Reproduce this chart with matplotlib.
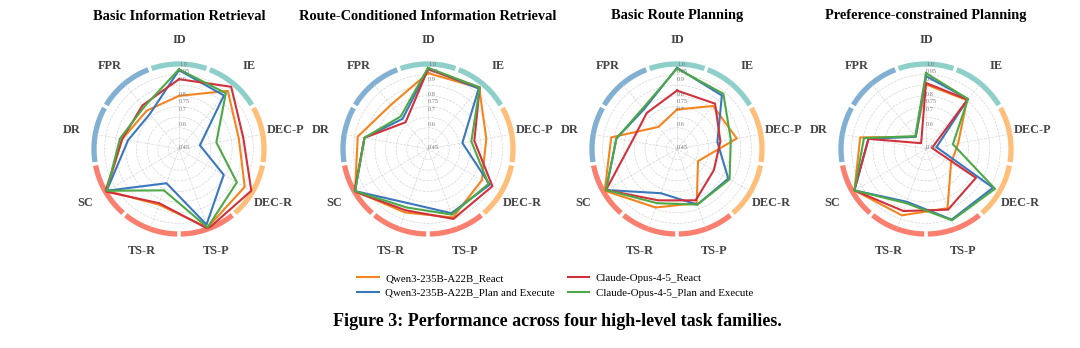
import matplotlib
matplotlib.use("Agg")
import matplotlib.pyplot as plt
import numpy as np

plt.rcParams['font.family'] = ['Liberation Serif', 'DejaVu Serif']

categories = ['ID', 'IE', 'DEC-P', 'DEC-R', 'TS-P', 'TS-R', 'SC', 'DR', 'FPR']
ring_colors = ['#8ECFC9', '#8ECFC9', '#FFBE7A', '#FFBE7A',
               '#FA7F6F', '#FA7F6F', '#FA7F6F', '#82B0D2', '#82B0D2']
tick_values = [0.45, 0.6, 0.7, 0.75, 0.8, 0.9, 0.95, 1.0]
tick_labels = ['0.45', '0.6', '0.7', '0.75', '0.8', '0.9', '0.95', '1.0']

titles = ['Basic Information Retrieval', 'Route-Conditioned Information Retrieval',
          'Basic Route Planning', 'Preference-constrained Planning']
series_names = ['Qwen3-235B-A22B_React', 'Qwen3-235B-A22B_Plan and Execute',
                'Claude-Opus-4-5_React', 'Claude-Opus-4-5_Plan and Execute']
series_colors = ['#F5841F', '#3A77BE', '#D1313B', '#4DA846']

# order: ID, IE, DEC-P, DEC-R, TS-P, TS-R, SC, DR, FPR
bir_qwen_react = [0.79, 0.94, 0.84, 0.94, 0.99, 0.83, 0.99, 0.82, 0.77]
bir_qwen_pe = [0.96, 0.90, 0.58, 0.78, 0.97, 0.68, 0.99, 0.78, 0.74]
bir_claude_react = [0.90, 0.975, 0.87, 0.99, 1.0, 0.82, 1.0, 0.82, 0.815]
bir_claude_pe = [0.965, 0.92, 0.69, 0.88, 0.99, 0.73, 0.99, 0.835, 0.80]

rcir_qwen_react = [0.94, 0.965, 0.83, 0.85, 0.92, 0.885, 0.995, 0.91, 0.82]
rcir_qwen_pe = [0.97, 0.96, 0.67, 0.91, 0.89, 0.82, 0.995, 0.865, 0.70]
rcir_claude_react = [0.965, 0.97, 0.75, 0.93, 0.93, 0.87, 1.0, 0.865, 0.67]
rcir_claude_pe = [0.975, 0.97, 0.73, 0.90, 0.90, 0.85, 0.995, 0.865, 0.72]

brp_qwen_react = [0.70, 0.81, 0.84, 0.60, 0.82, 0.85, 0.99, 0.88, 0.63]
brp_qwen_pe = [0.975, 0.90, 0.71, 0.83, 0.83, 0.75, 0.98, 0.845, 0.78]
brp_claude_react = [0.825, 0.83, 0.73, 0.72, 0.80, 0.80, 0.98, 0.74, 0.75]
brp_claude_pe = [0.97, 0.915, 0.80, 0.84, 0.83, 0.82, 0.98, 0.845, 0.79]

pcp_qwen_react = [0.865, 0.86, 0.655, 0.63, 0.855, 0.905, 0.985, 0.88, 0.545]
pcp_qwen_pe = [0.92, 0.87, 0.51, 0.95, 0.935, 0.81, 0.985, 0.825, 0.545]
pcp_claude_react = [0.875, 0.865, 0.48, 0.82, 0.865, 0.875, 0.985, 0.825, 0.49]
pcp_claude_pe = [0.94, 0.87, 0.62, 0.965, 0.94, 0.82, 0.985, 0.855, 0.55]

tasks = [
    [bir_qwen_react, bir_qwen_pe, bir_claude_react, bir_claude_pe],
    [rcir_qwen_react, rcir_qwen_pe, rcir_claude_react, rcir_claude_pe],
    [brp_qwen_react, brp_qwen_pe, brp_claude_react, brp_claude_pe],
    [pcp_qwen_react, pcp_qwen_pe, pcp_claude_react, pcp_claude_pe],
]

W, H = 1080, 348
fig = plt.figure(figsize=(W / 100, H / 100), dpi=100)

n = len(categories)
angles = np.arange(n) * 2 * np.pi / n
step = 2 * np.pi / n
gap = np.deg2rad(1.2)
rmin = 0.44
rad_px = 85
centers_x = [179, 428, 677, 926]
center_y = 149

handles = []
for k, (title, data) in enumerate(zip(titles, tasks)):
    cx = centers_x[k]
    ax = fig.add_axes([(cx - rad_px) / W, (H - center_y - rad_px) / H,
                       2 * rad_px / W, 2 * rad_px / H], projection='polar')
    ax.set_theta_offset(np.pi / 2)
    ax.set_theta_direction(-1)
    ax.set_ylim(rmin, 1.0)
    ax.spines['polar'].set_visible(False)
    ax.set_xticks(angles)
    ax.set_xticklabels([])
    ax.set_yticks(np.linspace(rmin, 1.0, 9)[1:-1])
    ax.set_yticklabels([])
    ax.grid(True, color='#d6d6d6', linestyle='--', linewidth=0.5)
    ax.tick_params(length=0)

    for i in range(n):
        th = np.linspace(angles[i] - step / 2 + gap, angles[i] + step / 2 - gap, 60)
        ax.plot(th, np.ones_like(th), color=ring_colors[i], lw=3.8,
                solid_capstyle='butt', clip_on=False, zorder=1)

    for vals, col, name in zip(data, series_colors, series_names):
        v = list(vals) + [vals[0]]
        th = list(angles) + [angles[0]]
        h, = ax.plot(th, v, color=col, lw=1.5, zorder=3, label=name)
        if k == 0:
            handles.append(h)

    for tv, tl in zip(tick_values, tick_labels):
        ax.text(0.0, tv, tl, fontsize=4.5, color='#777777', ha='left',
                va='center', zorder=4)

    for ang, lab in zip(angles, categories):
        ax.text(ang, 1.155, lab, fontsize=8.8, fontweight='bold', color='#444444',
                ha='center', va='center', clip_on=False)

    fig.text(cx / W, 1 - 16 / H, title, fontsize=10.4, fontweight='bold',
             ha='center', va='center')

fig.legend(handles=handles, loc='center', bbox_to_anchor=(555 / W, 1 - 285.5 / H),
           ncol=2, frameon=False, fontsize=7.8, handlelength=2.0,
           handletextpad=0.6, columnspacing=1.2, labelspacing=0.45)

fig.text(557 / W, 1 - 322 / H, 'Figure 3: Performance across four high-level task families.',
         fontsize=13, fontweight='bold', ha='center', va='center')

plt.savefig('out.png', dpi=100)
